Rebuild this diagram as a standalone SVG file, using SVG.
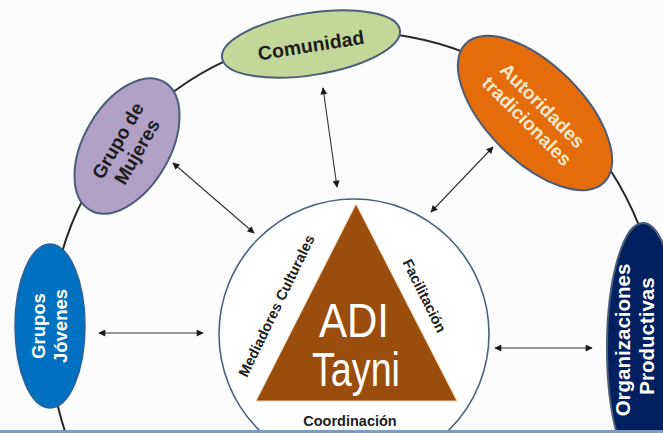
<svg xmlns="http://www.w3.org/2000/svg" width="663" height="433" viewBox="0 0 663 433">
<defs>
<marker id="ah" viewBox="0 0 10 10" refX="9" refY="5" markerWidth="8" markerHeight="7" markerUnits="userSpaceOnUse" orient="auto-start-reverse">
<path d="M0,0 L10,5 L0,10 z" fill="#1a1a1a"/>
</marker>
<style>
.conn{stroke:#333;stroke-width:1.1;fill:none;marker-start:url(#ah);marker-end:url(#ah)}
.node{stroke:#4a5c78;stroke-width:2}
.lbl{font-family:"Liberation Sans",Arial,sans-serif;font-weight:bold;text-anchor:middle}
.big{font-family:"Liberation Sans",Arial,sans-serif;font-weight:normal;text-anchor:middle;fill:#ffffff}
.dark{fill:#1c1c1c}
.light{fill:#ffffff}
</style>
</defs>
<rect width="663" height="433" fill="#fcfcfc"/>
<circle cx="355" cy="337" r="305" fill="none" stroke="#262626" stroke-width="2"/>
<g id="connectors">
<line class="conn" x1="323" y1="88" x2="337" y2="187"/>
<line class="conn" x1="173" y1="163" x2="254" y2="233"/>
<line class="conn" x1="493" y1="147" x2="431" y2="212"/>
<line class="conn" x1="99" y1="333" x2="203" y2="333"/>
<line class="conn" x1="495" y1="348" x2="592" y2="348"/>
</g>
<g id="center">
<circle cx="354" cy="334" r="135" fill="#ffffff" stroke="#4a6080" stroke-width="1.6"/>
<polygon points="356,204 256,401 457,401" fill="#9a4d0d" stroke="#f0d2ad" stroke-width="1"/>
<text class="big" x="354" y="337" font-size="48" textLength="70" lengthAdjust="spacingAndGlyphs">ADI</text>
<text class="big" x="356" y="386" font-size="48" textLength="88" lengthAdjust="spacingAndGlyphs">Tayni</text>
<text class="lbl dark" font-size="14.5" transform="translate(281,308) rotate(-64)">Mediadores Culturales</text>
<text class="lbl dark" font-size="14.5" transform="translate(420,298) rotate(63.7)">Facilitación</text>
<text class="lbl dark" x="350" y="426" font-size="14.5">Coordinación</text>
</g>
<g id="comunidad">
<ellipse class="node" cx="311" cy="44" rx="90" ry="31" transform="rotate(-9 311 44)" fill="#c4d79b"/>
<text class="lbl dark" font-size="19.5" transform="translate(312,52) rotate(-9)">Comunidad</text>
</g>
<g id="mujeres">
<ellipse class="node" cx="127" cy="146" rx="74" ry="43" transform="rotate(-60 127 146)" fill="#b2a1c7"/>
<text class="lbl dark" font-size="19" transform="translate(127,146) rotate(-60)"><tspan x="0" y="-4">Grupo de</tspan><tspan x="0" y="18">Mujeres</tspan></text>
</g>
<g id="autoridades">
<ellipse class="node" cx="535" cy="113" rx="98" ry="48" transform="rotate(45 535 113)" fill="#e46c0a"/>
<text class="lbl" fill="#fde8cc" font-size="19" transform="translate(535,113) rotate(45)"><tspan x="0" y="-4">Autoridades</tspan><tspan x="0" y="18">tradicionales</tspan></text>
</g>
<g id="jovenes">
<ellipse cx="50" cy="326" rx="35" ry="82" fill="#0070c0" stroke="#2f5f98" stroke-width="1.5"/>
<text class="lbl light" font-size="18.5" transform="translate(50,326) rotate(-90)"><tspan x="0" y="-5">Grupos</tspan><tspan x="0" y="17">Jóvenes</tspan></text>
</g>
<g id="organizaciones">
<ellipse class="node" cx="643" cy="348" rx="36" ry="125" fill="#002060"/>
<text class="lbl light" font-size="20.5" transform="translate(636,340) rotate(-90)"><tspan x="0" y="-6">Organizaciones</tspan><tspan x="4" y="18">Productivas</tspan></text>
</g>
<rect x="0" y="430" width="663" height="3" fill="#7f9cc0"/>
</svg>
